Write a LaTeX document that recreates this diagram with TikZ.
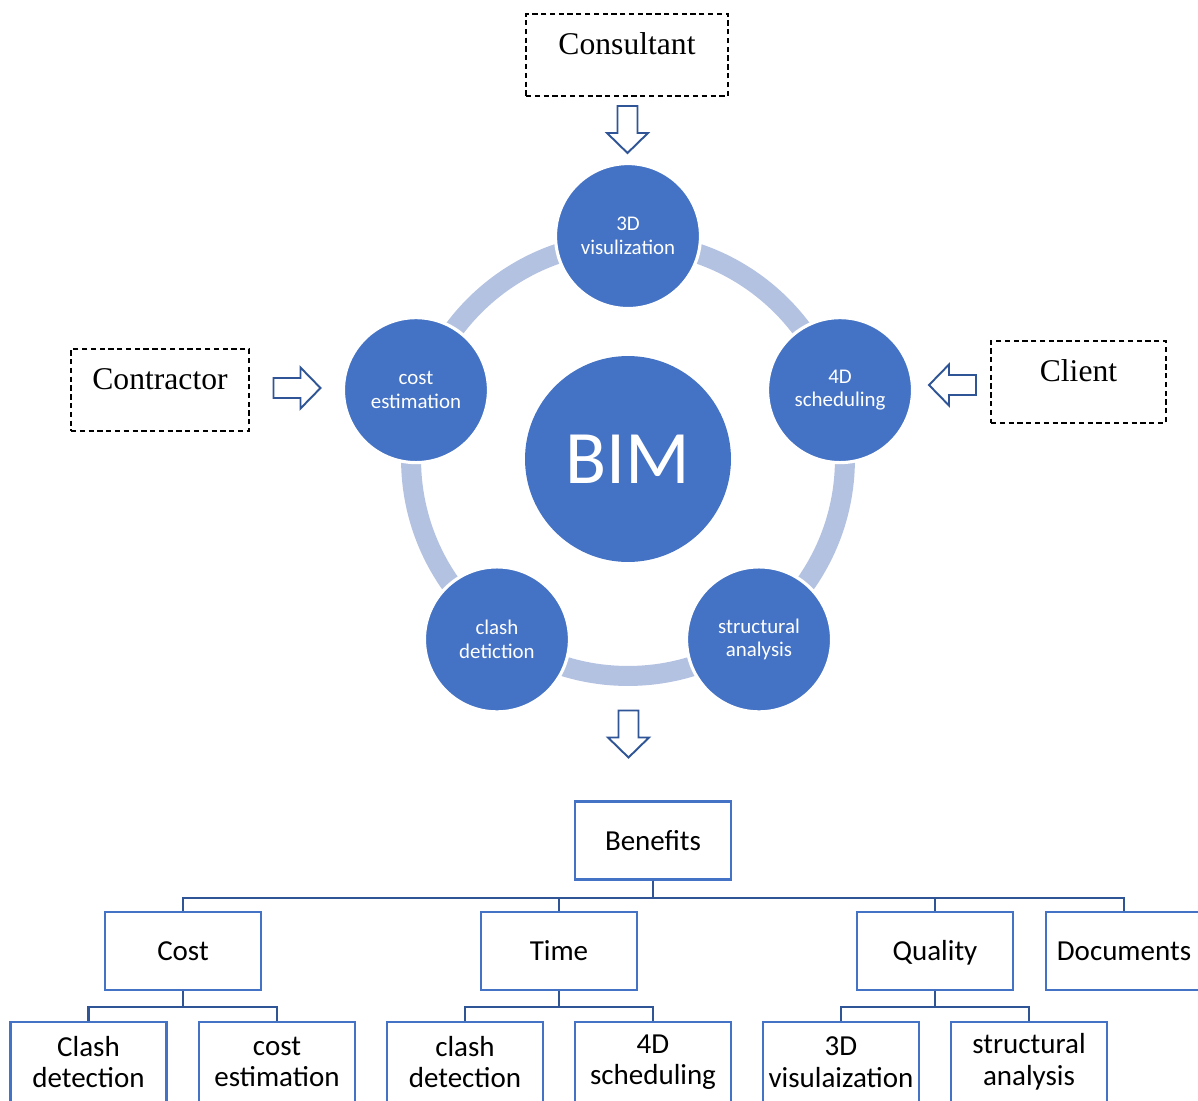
\documentclass[tikz,border=0pt]{standalone}
\usepackage{fontspec}
\setmainfont{Liberation Serif}
\newfontfamily\calibri{Carlito}
\usetikzlibrary{calc}
\definecolor{cBlue}{RGB}{68,114,196}
\definecolor{cRing}{RGB}{180,194,226}
\definecolor{cDark}{RGB}{47,85,151}
\tikzset{
	actor/.style={rectangle, draw=black, dash pattern=on 3pt off 2pt, line width=0.8pt, inner xsep=0pt, inner ysep=0.36cm, text height=0.44cm, text depth=0.48cm, font=\fontsize{18}{20}\selectfont},
	tool/.style ={circle, fill=cBlue, draw=white, line width=1.8pt, minimum size=2.9cm, inner sep=0pt, align=center, text=white, font=\calibri\fontsize{11.9}{13.6}\selectfont},
	feed/.style ={draw=cDark, fill=white, line width=1.1pt, line join=miter},
	gain/.style ={rectangle, draw=cBlue, line width=1.4pt, minimum width=3.12cm, minimum height=1.56cm, align=center, font=\calibri\fontsize{16.5}{18}\selectfont},
	one/.style  ={text height=10.8pt, text depth=0pt},
	link/.style ={draw=cDark, line width=1.4pt},
}
\begin{document}
\begin{tikzpicture}[x=0.02cm, y=-0.02cm]
	\clip (0,0) rectangle (1198,1100);
	% BIM ring
	\draw[cRing, line width=0.4cm] (628,459) circle[radius=4.34cm];
	\node[circle, fill=cBlue, minimum size=4.12cm, inner sep=0pt, text=white, font=\calibri\fontsize{43}{50}\selectfont] (bim) at (628,459) {BIM};
	\foreach \n/\a/\t in {vis/90/3D\\visulization, est/162/cost\\estimation, det/234/clash\\detiction, sa/306/structural\\analysis, sch/18/4D\\scheduling}
		\node[tool] (\n) at ($(bim.center)+(\a:4.46cm)$) {\t};
	% stakeholders
	\node[actor, minimum width=4.04cm] (cons) at (627,55) {Consultant};
	\node[actor, minimum width=3.56cm] (contr) at (160,390) {Contractor};
	\node[actor, minimum width=3.5cm] (client) at (1078.5,382) {Client};
	\coordinate (fcons) at (627.5,129.5);
	\coordinate (fcontr) at (297,388);
	\coordinate (fclient) at (952.5,385);
	\coordinate (fben) at (628.5,734);
	\foreach \c/\r in {fcons/-90, fcontr/0, fclient/180, fben/-90}
		\draw[feed, shift={(\c)}, rotate=\r] (-23.5,-10) -- (3.5,-10) -- (3.5,-20.5) -- (23.5,0) -- (3.5,20.5) -- (3.5,10) -- (-23.5,10) -- cycle;
	% benefits tree
	\node[gain] (ben) at (653,840.5) {Benefits};
	\node[gain, one] (cost) at (183,951) {Cost};
	\node[gain, one] (time) at (559,951) {Time};
	\node[gain, one] (qual) at (935,951) {Quality};
	\node[gain, one] (docs) at (1124,951) {Documents};
	\node[gain, minimum height=1.6cm] (cd1) at (88.5,1062) {Clash\\detection};
	\node[gain, minimum height=1.6cm] (ce) at (277,1062) {cost\\estimation};
	\node[gain, minimum height=1.6cm] (cd2) at (465,1062) {clash\\detection};
	\node[gain, minimum height=1.6cm] (fd) at (653,1062) {4D\\scheduling};
	\node[gain, minimum height=1.6cm] (tv) at (841,1062) {3D\\visulaization};
	\node[gain, minimum height=1.6cm] (sa2) at (1029,1062) {structural\\analysis};
	\foreach \n in {cost,time,qual,docs} \draw[link] (ben.south) -- ++(0,17) -| (\n.north);
	\foreach \p/\a/\b in {cost/cd1/ce, time/cd2/fd, qual/tv/sa2} {
		\draw[link] (\p.south) -- ++(0,16) -| (\a.north);
		\draw[link] (\p.south) -- ++(0,16) -| (\b.north);
	}
\end{tikzpicture}
\end{document}
